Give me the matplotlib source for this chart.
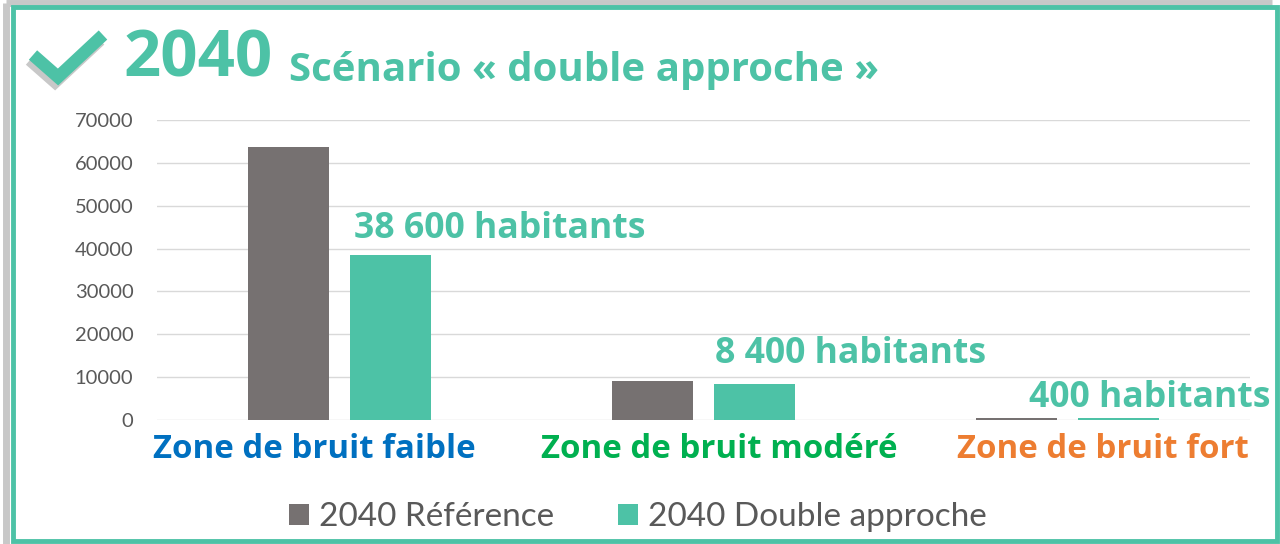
import matplotlib
matplotlib.use("Agg")
import matplotlib.pyplot as plt
import numpy as np
from matplotlib.patches import Rectangle
from matplotlib.lines import Line2D

# data
categories = ["Zone de bruit faible", "Zone de bruit modéré", "Zone de bruit fort"]
cat_colors = ["#0070C0", "#00B050", "#ED7D31"]
reference = [63700, 9100, 500]
double_approche = [38600, 8400, 400]
value_labels = ["38 600 habitants", "8 400 habitants", "400 habitants"]
series_names = ["2040 Référence", "2040 Double approche"]
yticks = [0, 10000, 20000, 30000, 40000, 50000, 60000, 70000]

GREY = "#767171"
TEAL = "#4DC2A6"
TXT = "#595959"
plt.rcParams["font.family"] = ["Lato", "DejaVu Sans"]
BOLD = ["Open Sans", "DejaVu Sans"]

W, H = 1280, 544
fig = plt.figure(figsize=(W / 100, H / 100), dpi=100)


def px(x, y):
    return x / W, 1 - y / H


# shadow on the left and top of the frame
for pts in ([(6, 544), (6, 3)], [(6, 3), (1272, 3)]):
    xs, ys = zip(*[px(*p) for p in pts])
    fig.lines.append(Line2D(xs, ys, transform=fig.transFigure, color="#C8C8C8", lw=5,
                            solid_capstyle="butt", zorder=0))
fig.patches.append(Rectangle(px(13, 541), 1264 / W, 534 / H, transform=fig.transFigure,
                             fill=False, edgecolor=TEAL, lw=3.5, zorder=1))

# check mark
for dx, dy, col in [(-3, 5, "#C8C8C8"), (0, 0, TEAL)]:
    xs, ys = zip(*[px(33 + dx, 55 + dy), px(58 + dx, 77 + dy), px(103 + dx, 35 + dy)])
    fig.lines.append(Line2D(xs, ys, transform=fig.transFigure, color=col, lw=9,
                            solid_capstyle="butt", solid_joinstyle="miter"))

fig.text(*px(124, 60), "2040", color=TEAL, fontsize=47, fontweight="bold", family=BOLD,
         va="center", ha="left")
fig.text(*px(289, 71), "Scénario « double approche »", color=TEAL, fontsize=29,
         fontweight="bold", family=BOLD, va="center", ha="left")

ax = fig.add_axes([157 / W, (H - 420) / H, 1093 / W, 300 / H])
x = np.arange(len(categories))
bw = 0.223
off = 0.14
ax.bar(x - off, reference, bw, color=GREY, label=series_names[0], zorder=3)
ax.bar(x + off, double_approche, bw, color=TEAL, label=series_names[1], zorder=3)

ax.set_xlim(-0.5, 2.5)
ax.set_ylim(0, 70000)
ax.set_yticks(yticks)
ax.set_yticklabels([str(v) for v in yticks], color=TXT, fontsize=14.5)
ax.grid(axis="y", color="#D9D9D9", lw=1, zorder=0)
for s in ax.spines.values():
    s.set_visible(False)
ax.tick_params(axis="y", length=0, pad=17)
ax.set_xticks(x)
ax.set_xticklabels([])
ax.tick_params(axis="x", length=0)

# category labels (offset from the bar groups as in the original)
cat_pos = [(314, 450), (719, 450), (1103, 450)]
for (cx, cy), txt, c in zip(cat_pos, categories, cat_colors):
    fig.text(*px(cx, cy), txt, color=c, fontsize=23.8, fontweight="bold", family=BOLD,
             va="center", ha="center")

label_pos = [(354, 229), (715, 354), (1029, 398)]
for (lx, ly), txt in zip(label_pos, value_labels):
    fig.text(*px(lx, ly), txt, color=TEAL, fontsize=25.7, fontweight="bold", family=BOLD,
             va="center", ha="left")

leg = fig.legend(loc="center", bbox_to_anchor=(px(638, 517)), ncol=2, frameon=False,
                 fontsize=24, handlelength=0.6, handleheight=0.6, handletextpad=0.3,
                 columnspacing=1.9)
for t in leg.get_texts():
    t.set_color(TXT)

fig.savefig("out.png", dpi=100)
